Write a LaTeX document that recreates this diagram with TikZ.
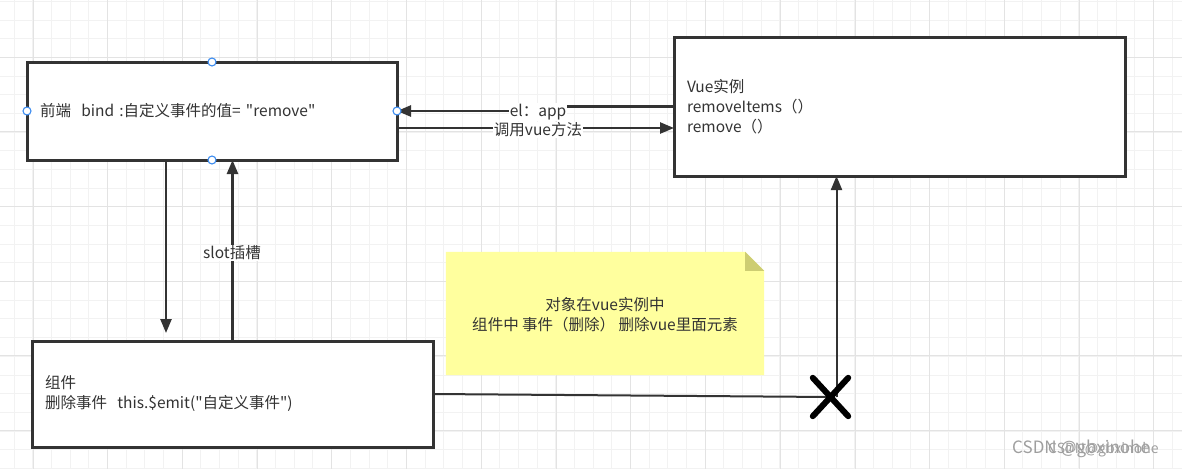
\documentclass[tikz,border=0pt]{standalone}
\usepackage{fontspec}
\newfontfamily\cjk{Noto Sans CJK SC}
\usetikzlibrary{arrows.meta}
\definecolor{ink}{HTML}{333333}
\definecolor{gridminor}{HTML}{F2F2F2}
\definecolor{gridmajor}{HTML}{E3E3E3}
\definecolor{notefill}{HTML}{FFFF9E}
\definecolor{notefold}{HTML}{CDCD72}
\definecolor{handle}{HTML}{3C8CF0}
\tikzset{
  box/.style={draw=ink, line width=3pt, fill=white, inner xsep=13pt, outer sep=0pt,
    align=left, text=ink, font=\cjk\fontsize{15.5}{20}\selectfont},
  conn/.style={draw=ink, line width=2.5pt, -{Triangle[length=14pt,width=11pt]}},
  lbl/.style={fill=white, inner sep=1pt, text=ink, font=\cjk\fontsize{15.5}{16}\selectfont},
  handledot/.style={draw=handle, fill=white, line width=1.1pt},
  xmark/.style={draw=black, line width=6pt, line cap=round},
  wmark/.style={anchor=west, text=gray!75, inner sep=0pt},
}
\begin{document}
\begin{tikzpicture}[x=1pt,y=-1pt]
\useasboundingbox (0,0) rectangle (1182,469);
\fill[white] (0,0) rectangle (1182,469);
% grid
\foreach \i in {0,...,63} \draw[gridminor, line width=0.8pt] ({14+\i*18.68},0) -- ++(0,469);
\foreach \i in {0,...,25} \draw[gridminor, line width=0.8pt] (0,{1.3+\i*18.68}) -- ++(1182,0);
\foreach \i in {0,...,15} \draw[gridmajor, line width=0.8pt] ({33+\i*74.72},0) -- ++(0,469);
\foreach \i in {0,...,6} \draw[gridmajor, line width=0.8pt] (0,{57+\i*74.72}) -- ++(1182,0);

% boxes
\node[box, minimum width=370pt, minimum height=98pt, text width=344pt] (front) at (212,111)
  {前端\ \ bind :自定义事件的值= "remove"};
\node[box, minimum width=451pt, minimum height=139pt, text width=425pt] (vue) at (899.5,106.5)
  {Vue实例\\removeItems（）\\remove（）};
\node[box, minimum width=401pt, minimum height=106pt, text width=375pt] (comp) at (232.5,394)
  {组件\\删除事件\ \ this.\$emit("自定义事件")};

% note
\node[minimum width=318pt, minimum height=123pt, inner sep=0pt] (note) at (605,313.5) {};
\fill[notefill] (note.north west) -- ([xshift=-19pt]note.north east) -- ([yshift=-19pt]note.north east)
  -- (note.south east) -- (note.south west) -- cycle;
\fill[notefold] ([xshift=-19pt]note.north east) -- ([xshift=-19pt,yshift=-19pt]note.north east)
  -- ([yshift=-19pt]note.north east) -- cycle;
\node[align=center, text=ink, font=\cjk\fontsize{15.5}{20}\selectfont] (notetext) at (605,315)
  {对象在vue实例中\\组件中 事件（删除） 删除vue里面元素};

% connectors between front and vue
\draw[conn] (vue.west) -- (540,106.5) -- (540,111) -- (front.east);
\node[lbl] (elapp) at (538,112) {el：app};
\draw[conn] ([yshift=-17pt]front.east) -- ([yshift=-17pt]front.east -| vue.west);
\node[lbl] (callvue) at (538,130) {调用vue方法};

% vertical connectors
\draw[conn, shorten >=8pt] ([xshift=-46pt]front.south) -- ([xshift=-46pt]front.south |- comp.north);
\draw[conn] (comp.north) -- (comp.north |- front.south);
\node[lbl] (slot) at (232,253) {slot插槽};

% bottom line and cross
\node[inner sep=0pt, minimum width=35pt, minimum height=38pt] (cross) at (830.5,397) {};
\draw[draw=ink, line width=2pt] (comp.east) -- (cross.center);
\draw[conn, line width=2pt] ([xshift=6pt]cross.center) -- ([xshift=6pt]cross.center |- vue.south);
\draw[xmark] (cross.north west) -- (cross.south east) (cross.north east) -- (cross.south west);

% handles
\foreach \a in {north,south,east,west} \draw[handledot] (front.\a) circle (4pt);

% watermark
\node[wmark, font=\cjk\fontsize{17}{17}\selectfont] (wm1) at (1012,449) {CSDN @gbxinohe};
\node[wmark, font=\cjk\fontsize{14}{14}\selectfont] (wm2) at (1048,450) {CSDN@gbxinohe};
\end{tikzpicture}
\end{document}
